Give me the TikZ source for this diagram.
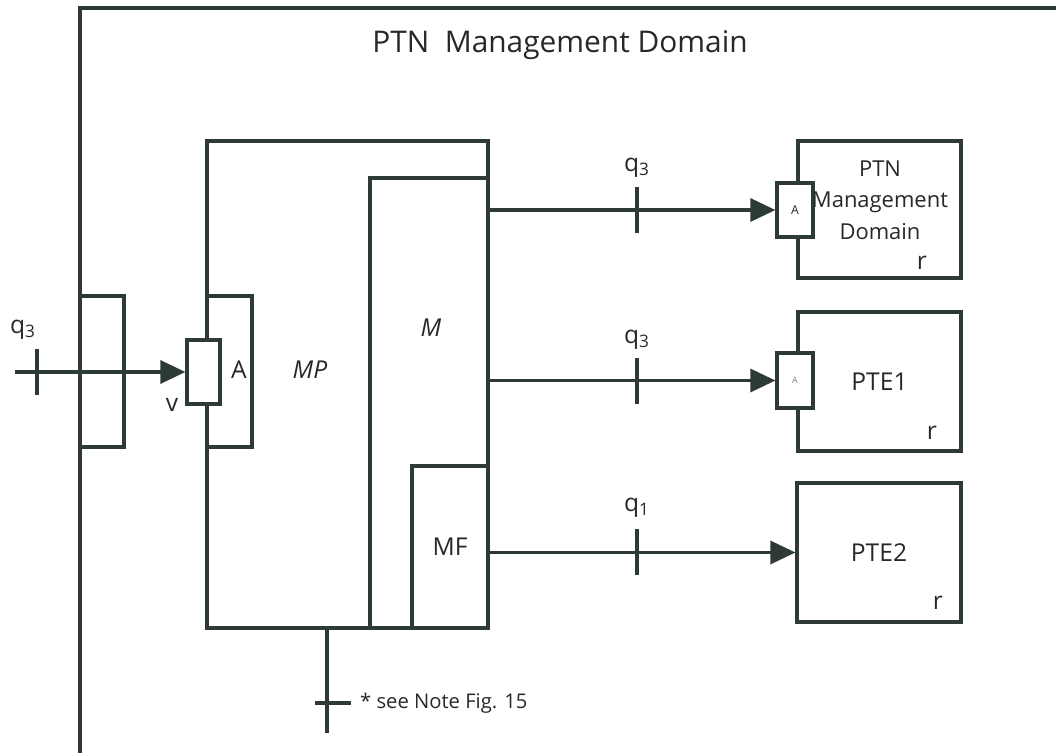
\documentclass[tikz,border=0pt]{standalone}
\usepackage{fontspec}
\setmainfont{Open Sans}
\usetikzlibrary{arrows.meta,calc}
\definecolor{inkgray}{RGB}{45,58,54}
\definecolor{textgray}{RGB}{40,40,40}

\begin{document}
\begin{tikzpicture}[
    x=0.02cm, y=-0.02cm,
    font=\fontsize{14}{16}\selectfont,
    every node/.style={text=textgray},
    box/.style={draw=inkgray, line width=1.8pt, inner sep=0pt},
    port/.style={box, fill=white},
    wire/.style={draw=inkgray, line width=1.8pt},
    arr/.style={wire, -{Triangle[length=0.5cm, width=0.46cm]}},
    vtick/.style={box, minimum width=0pt, minimum height=0.92cm},
    htick/.style={box, minimum height=0pt, minimum width=0.72cm},
    rmark/.style={font=\fontsize{14}{16}\selectfont}
  ]
  \useasboundingbox (0,0) rectangle (1056,753);

  % domain frame
  \draw[wire] (80,753) -- (80,8) -- (1056,8);
  \node[font=\fontsize{17}{20}\selectfont] (title) at (560,45) {PTN\ \ Management Domain};

  % management process
  \node[box, minimum width=0.88cm, minimum height=3.02cm] (gate) at (102,371.5) {};
  \node[box, minimum width=5.62cm, minimum height=9.74cm] (mp) at (347.5,384.5) {};
  \node[box, minimum width=0.9cm, minimum height=3.02cm] (mpa) at (229.5,371.5) {};
  \node[box, minimum width=2.36cm, minimum height=9cm] (m) at (429,403) {};
  \node[box, minimum width=1.52cm, minimum height=3.24cm] (mf) at (450,547) {MF};
  \node[port, minimum width=0.66cm, minimum height=1.28cm] (vport) at (203.5,372) {};
  \node (alabel) at (239,370) {A};
  \node[font=\fontsize{14}{16}\itshape] (mplabel) at (310,370) {MP};
  \node[font=\fontsize{14}{16}\itshape] (mlabel) at (431,328) {M};
  \node (vlabel) at (172,405) {v};

  % managed systems
  \node[box, minimum width=3.26cm, minimum height=2.74cm] (dom) at (879.5,209.5) {};
  \node[box, minimum width=3.26cm, minimum height=2.78cm] (pte1) at (879.5,381.5) {PTE1};
  \node[box, minimum width=3.28cm, minimum height=2.78cm] (pte2) at (879,552.5) {PTE2};
  \node[port, minimum width=0.72cm, minimum height=1.08cm] (dport) at (795,210)
    {\fontsize{7}{8}\selectfont A};
  \node[port, minimum width=0.72cm, minimum height=1.1cm] (pport) at (795,380.5)
    {\fontsize{5}{6}\selectfont\color{gray}A};
  \node[align=center, font=\fontsize{12.5}{18}\selectfont] (domtext) at (880,200)
    {PTN\\Management\\Domain};
  \node[rmark] (r1) at (922,263) {r};
  \node[rmark] (r2) at (932,433) {r};
  \node[rmark] (r3) at (938,603) {r};

  % interfaces
  \coordinate (qin) at (15,372);
  \draw[arr] (qin) -- (vport.west);
  \node[vtick] (tin) at (37,372) {};
  \node (qinlabel) at (23,330) {q\textsubscript{3}};

  \draw[arr] (m.east |- dport.west) -- (dport.west);
  \draw[arr] (m.east |- pport.west) -- (pport.west);
  \draw[arr] (mf.east |- pte2.west) -- (pte2.west);
  \node[vtick] (t1) at (637,210) {};
  \node[vtick] (t2) at (637,381) {};
  \node[vtick] (t3) at (637,552) {};
  \node (q1label) at (637,168) {q\textsubscript{3}};
  \node (q2label) at (637,340) {q\textsubscript{3}};
  \node (q3label) at (637,508) {q\textsubscript{1}};

  \coordinate (noteend) at (327,733);
  \draw[wire] (mp.south -| noteend) -- (noteend);
  \node[htick] (tnote) at (333,703) {};
  \node[anchor=west, font=\fontsize{11.5}{13}\selectfont] (note) at (354,703)
    {* see Note Fig. 15};
\end{tikzpicture}
\end{document}
